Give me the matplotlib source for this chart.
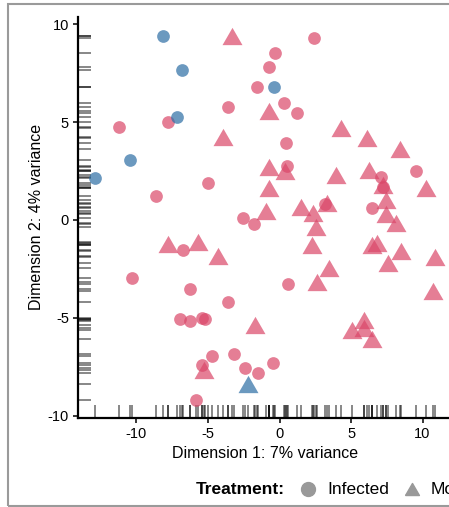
import numpy as np
import matplotlib.pyplot as plt
import matplotlib.transforms as mtransforms
from matplotlib.collections import LineCollection
from matplotlib.lines import Line2D
from matplotlib.patches import Rectangle

plt.rcParams['font.family'] = ['Liberation Sans', 'DejaVu Sans']

# Infected, pink group
inf_pink_x = [-11.22, -7.78, 2.43, -0.31, -0.76, -1.55, 0.34, 1.24, -3.58, 0.45,
              -4.98, -8.64, -2.53, -1.78, 0.50, 7.10, 7.26, 9.55, 6.49, 3.18,
              -10.34, -6.77, -6.26, -6.96, -6.26, -5.42, -5.21, -3.58, -4.72, -5.44,
              -5.84, -3.16, -2.41, -1.48, -0.43, 0.62]
inf_pink_y = [4.76, 5.02, 9.30, 8.51, 7.79, 6.80, 5.98, 5.44, 5.78, 3.91,
              1.87, 1.24, 0.12, -0.20, 2.76, 2.21, 1.67, 2.52, 0.60, 0.82,
              -2.97, -1.53, -3.54, -5.05, -5.15, -5.00, -5.05, -4.17, -6.94, -7.41,
              -9.18, -6.84, -7.57, -7.79, -7.28, -3.27]

# Infected, blue group
inf_blue_x = [-8.13, -6.80, -7.19, -10.45, -12.90, -0.36]
inf_blue_y = [9.39, 7.65, 5.24, 3.06, 2.16, 6.80]

# Mock, pink group
mock_pink_x = [-3.34, -0.73, -3.97, 4.30, 6.12, 8.43, -0.71, 0.38, -0.71, 3.95,
               6.28, 10.22, -0.94, 1.50, 2.36, 2.53, 3.30, 2.27, 7.43, 7.43,
               8.13, 7.27, 6.47, 6.82, 8.46, 7.61, 10.87, 10.70, 3.46, 2.62,
               5.05, 5.91, 5.91, 6.47, -1.71, -7.78, -5.70, -4.28, -5.28]
mock_pink_y = [9.40, 5.58, 4.25, 4.68, 4.17, 3.61, 2.72, 2.52, 1.62, 2.30,
               2.55, 1.62, 0.47, 0.68, 0.34, -0.34, 0.85, -1.28, 1.02, 0.29,
               -0.14, 1.79, -1.28, -1.17, -1.58, -2.19, -1.89, -3.60, -2.46, -3.16,
               -5.61, -5.10, -5.51, -6.07, -5.36, -1.22, -1.12, -1.86, -7.65]

# Mock, blue group
mock_blue_x = [-2.18]
mock_blue_y = [-8.37]

pink = '#DA4769'
blue = '#2D6EA5'

W, H = 449, 507
fig = plt.figure(figsize=(W / 100, H / 100), dpi=100)
ax = fig.add_axes([78 / W, 89.5 / H, 374 / W, 400.5 / H])

tri = [(-1, -0.866), (1, -0.866), (0, 0.866), (-1, -0.866)]

ax.scatter(inf_pink_x, inf_pink_y, s=84, marker='o', color=pink, alpha=0.7, lw=0, zorder=3)
ax.scatter(inf_blue_x, inf_blue_y, s=84, marker='o', color=blue, alpha=0.7, lw=0, zorder=3)
ax.scatter(mock_pink_x, mock_pink_y, s=207, marker=tri, color=pink, alpha=0.7, lw=0, zorder=3)
ax.scatter(mock_blue_x, mock_blue_y, s=207, marker=tri, color=blue, alpha=0.7, lw=0, zorder=3)

# rug marks on both axes
all_x = inf_pink_x + inf_blue_x + mock_pink_x + mock_blue_x
all_y = inf_pink_y + inf_blue_y + mock_pink_y + mock_blue_y
tr_left = mtransforms.blended_transform_factory(ax.transAxes, ax.transData)
tr_bottom = mtransforms.blended_transform_factory(ax.transData, ax.transAxes)
left_rug = LineCollection([[(0, v), (0.036, v)] for v in all_y], transform=tr_left,
                          colors='black', alpha=0.55, linewidths=1.2, zorder=2)
bottom_rug = LineCollection([[(v, 0), (v, 0.03)] for v in all_x], transform=tr_bottom,
                            colors='black', alpha=0.55, linewidths=1.2, zorder=2)
ax.add_collection(left_rug)
ax.add_collection(bottom_rug)

ax.set_xlim(-14.09, 12.06)
ax.set_ylim(-10.08, 10.36)
ax.set_xticks([-10, -5, 0, 5, 10])
ax.set_yticks([-10, -5, 0, 5, 10])
ax.set_xticklabels(['-10', '-5', '0', '5', '10'])
ax.set_yticklabels(['-10', '-5', '0', '5', '10'])
for side in ['top', 'right']:
    ax.spines[side].set_visible(False)
for side in ['left', 'bottom']:
    ax.spines[side].set_linewidth(1.6)
    ax.spines[side].set_zorder(5)
ax.tick_params(direction='out', length=3.5, width=1.1, labelsize=10.5, pad=3, colors='black')
ax.set_xlabel('Dimension 1: 7% variance', fontsize=11.5, labelpad=4)
ax.set_ylabel('Dimension 2: 4% variance', fontsize=11.5, labelpad=3)

# legend at the bottom
ly = 1 - 489 / H
fig.text(196 / W, ly, 'Treatment:', fontsize=12.5, fontweight='bold', va='center', ha='left')
fig.add_artist(Line2D([307.7 / W], [ly], marker='o', markersize=10, color='#999999',
                      lw=0, transform=fig.transFigure))
fig.text(327.7 / W, ly, 'Infected', fontsize=12.5, va='center', ha='left')
fig.add_artist(Line2D([411.7 / W], [ly], marker=tri, markersize=10, color='#999999',
                      lw=0, transform=fig.transFigure))
fig.text(430.7 / W, ly, 'Mock', fontsize=12.5, va='center', ha='left')

# grey frame around the plot
fig.add_artist(Rectangle((8.3 / W, 1.5 / H), 1.2, (503.5 - 1.5) / H, fill=False,
                         edgecolor='#9a9a9a', lw=1.5, transform=fig.transFigure))

fig.savefig('out.png', dpi=100)
